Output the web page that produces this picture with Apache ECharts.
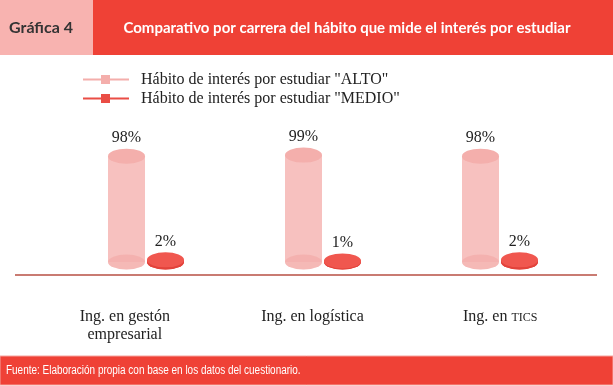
<!DOCTYPE html>
<html>
<head>
<meta charset="utf-8">
<script src="https://cdn.jsdelivr.net/npm/echarts@6/dist/echarts.min.js"></script>
<style>
  html, body { margin: 0; padding: 0; background: #fff; }
  #chart { width: 613px; height: 386px; }
</style>
</head>
<body>
<div id="chart"></div>
<script>
var categories = ['Ing. en gestón\nempresarial', 'Ing. en logística', 'Ing. en TICS'];
var seriesNames = ['Hábito de interés por estudiar "ALTO"', 'Hábito de interés por estudiar "MEDIO"'];
var altoValues = [98, 99, 98];
var medioValues = [2, 1, 2];

var serif = '"Liberation Serif", "DejaVu Serif", serif';

// cilindro: cuerpo + elipse de base + elipse superior + etiqueta
function cylinder(offset, c) {
  return function (params, api) {
    var idx = api.value(0), val = api.value(1);
    var base = api.coord([idx, 0]);
    var top = api.coord([idx, val]);
    var cx = base[0] + offset;
    var w = 37, h = 15;
    return {
      type: 'group',
      children: [
        { type: 'circle', x: cx, y: base[1], scaleY: h / w, shape: { cx: 0, cy: 0, r: w / 2 }, style: { fill: c.body } },
        { type: 'rect', shape: { x: cx - w / 2, y: top[1], width: w, height: base[1] - top[1] }, style: { fill: c.body } },
        { type: 'circle', x: cx, y: base[1], scaleY: h / w, shape: { cx: 0, cy: 0, r: w / 2 }, style: { fill: c.bottom } },
        { type: 'circle', x: cx, y: top[1], scaleY: h / w, shape: { cx: 0, cy: 0, r: w / 2 }, style: { fill: c.top } },
        { type: 'text', style: { text: val + '%', x: cx, y: top[1] - h / 2 - 3, align: 'center', verticalAlign: 'bottom',
          font: '16px ' + serif, fill: '#222' } }
      ]
    };
  };
}

var chart = echarts.init(document.getElementById('chart'));
chart.setOption({
  animation: false,
  legend: {
    orient: 'vertical', left: 78, top: 66, itemGap: 2,
    itemWidth: 46, itemHeight: 10,
    textStyle: { fontFamily: serif, fontSize: 16, lineHeight: 17, color: '#222', padding: [0, 0, 0, 7] },
    data: [
      { name: seriesNames[0], icon: 'path://M0,4H46V6H0Z M18,0.5H27V9.5H18Z', itemStyle: { color: '#f4aeab' } },
      { name: seriesNames[1], icon: 'path://M0,4H46V6H0Z M18,0.5H27V9.5H18Z', itemStyle: { color: '#ea4d45' } }
    ]
  },
  grid: [
    { left: 57.5, right: 24.5, top: 154, bottom: 124 },
    { left: 31, right: 19, top: 154, bottom: 111 }
  ],
  xAxis: [
    { type: 'category', gridIndex: 0, data: categories, axisLine: { show: false }, axisTick: { show: false }, axisLabel: { show: false } },
    { type: 'category', gridIndex: 1, data: categories, axisLine: { show: false }, axisTick: { show: false },
      axisLabel: {
        margin: 33, fontFamily: serif, fontSize: 16, lineHeight: 18, color: '#222',
        formatter: function (v) { return v.replace('TICS', '{sc|TICS}'); },
        rich: { sc: { fontFamily: serif, fontSize: 12, lineHeight: 18, padding: [1, 0, 0, 0], color: '#222' } }
      } }
  ],
  yAxis: [
    { type: 'value', gridIndex: 0, min: 0, max: 100, show: false },
    { type: 'value', gridIndex: 1, show: false }
  ],
  series: [
    { name: seriesNames[0], type: 'custom', xAxisIndex: 0, yAxisIndex: 0,
      itemStyle: { color: '#f4aeab' },
      renderItem: cylinder(-19.5, { body: 'rgba(246,182,180,0.85)', bottom: 'rgba(240,160,157,0.25)', top: '#f4afac' }),
      data: altoValues.map(function (v, i) { return [i, v]; }) },
    { name: seriesNames[1], type: 'custom', xAxisIndex: 0, yAxisIndex: 0,
      itemStyle: { color: '#ea4d45' },
      renderItem: cylinder(19.5, { body: '#e8463e', bottom: '#e2433b', top: '#f0574f' }),
      data: medioValues.map(function (v, i) { return [i, v]; }) }
  ],
  graphic: [
    { type: 'rect', shape: { x: 0, y: 0, width: 93, height: 55 }, style: { fill: '#f8b3b0' } },
    { type: 'rect', shape: { x: 93, y: 0, width: 520, height: 55 }, style: { fill: '#ef4136' } },
    { type: 'text', style: { text: 'Gráfica 4', x: 41, y: 28, align: 'center', verticalAlign: 'middle',
      font: 'bold 16px "Lato", "Open Sans", sans-serif', fill: '#333' } },
    { type: 'text', style: { text: 'Comparativo por carrera del hábito que mide el interés por estudiar', x: 347, y: 28,
      align: 'center', verticalAlign: 'middle', font: 'bold 15px "Lato", "Open Sans", sans-serif', fill: '#fff' } },
    { type: 'line', shape: { x1: 15, y1: 275, x2: 597, y2: 275 }, style: { stroke: '#c97b72', lineWidth: 2 } },
    { type: 'rect', shape: { x: 0, y: 356, width: 613, height: 29 }, style: { fill: '#ef4136', stroke: '#f6a39d', lineWidth: 1 } },
    { type: 'text', x: 6, y: 371, scaleX: 0.83, style: { text: 'Fuente: Elaboración propia con base en los datos del cuestionario.', x: 0, y: 0,
      verticalAlign: 'middle', font: '12px "Liberation Sans", sans-serif', fill: '#fff' } }
  ]
});
</script>
</body>
</html>
